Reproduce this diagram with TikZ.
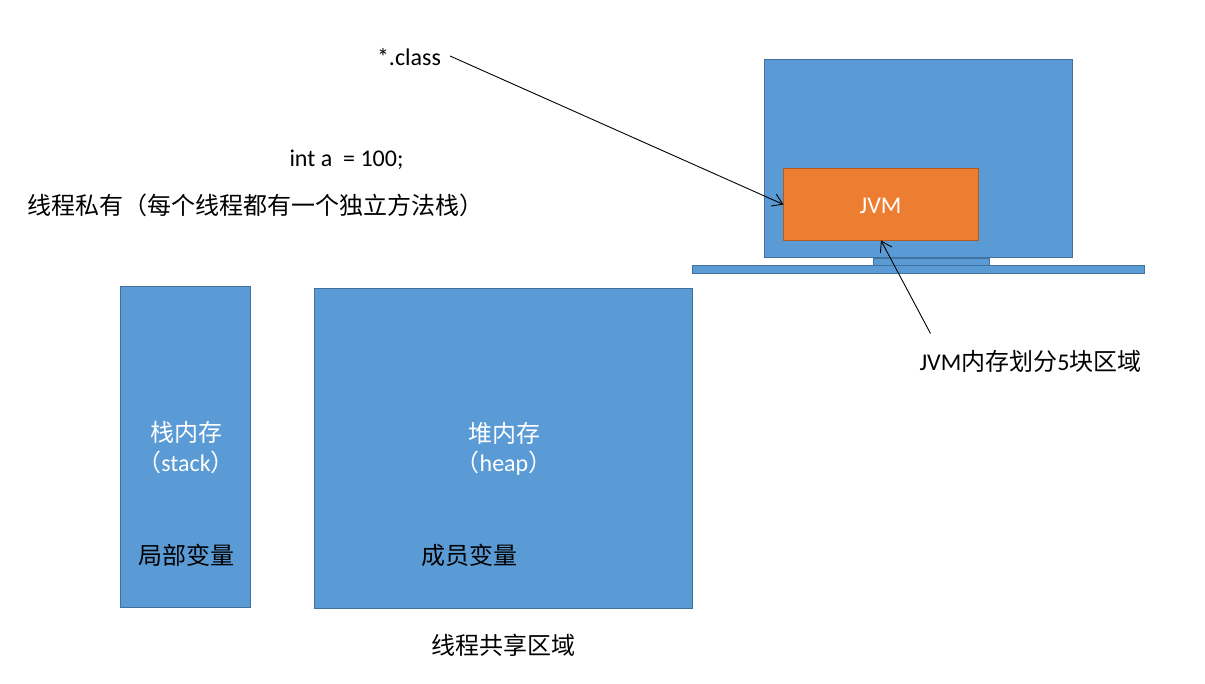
\documentclass[tikz,border=0pt]{standalone}
\usepackage{fontspec}
\setmainfont{Carlito}
\newfontfamily\cjk{Noto Sans CJK SC}
\usetikzlibrary{arrows.meta}
\definecolor{boxblue}{HTML}{5B9BD5}
\definecolor{boxblueline}{HTML}{41719C}
\definecolor{boxorange}{HTML}{ED7D31}
\definecolor{boxorangeline}{HTML}{AE5A21}
\newcommand{\cn}[1]{{\cjk #1}}
\tikzset{
  x=1pt, y=-1pt,
  panel/.style={draw=boxblueline, fill=boxblue, line width=1pt, minimum width=#1, inner sep=0pt, outer sep=0pt},
  accent/.style={draw=boxorangeline, fill=boxorange, line width=1pt, inner sep=0pt, outer sep=0pt},
  label/.style={inner sep=0pt, outer sep=0pt, text=black, font=\fontsize{24pt}{28pt}\selectfont},
  onbox/.style={inner sep=0pt, outer sep=0pt, text=white, font=\fontsize{24pt}{28pt}\selectfont},
  pointer/.style={draw=black, line width=0.9pt, -{Straight Barb[length=10pt,width=13pt,line width=0.9pt]}}
}
\begin{document}
\begin{tikzpicture}
\useasboundingbox (0,0) rectangle (1205,684);

% Computer: screen, neck and base
\node[panel=116pt, minimum height=8pt] (neck) at (931,262.5) {};
\node[panel=452pt, minimum height=8pt] (base) at (918,269.5) {};
\node[panel=308pt, minimum height=198pt] (screen) at (918.5,158.5) {};
\node[accent, minimum width=195pt, minimum height=72pt] (jvm) at (881,204.5) {};
\node[onbox] (jvmtext) at (880.5,206) {JVM};

% Memory areas
\node[panel=130pt, minimum height=321pt] (stack) at (185.5,447) {};
\node[panel=378pt, minimum height=320pt] (heap) at (503.5,448.5) {};

\node[onbox] (stackname) at (186,432) {\cn{栈内存}};
\node[onbox] (stacktext) at (186,462) {\cn{（}stack\cn{）}};
\node[label] (stackvar) at (186,555) {\cn{局部变量}};

\node[onbox] (heapname) at (504,433) {\cn{堆内存}};
\node[onbox] (heaptext) at (504,463) {\cn{（}heap\cn{）}};
\node[label] (heapvar) at (469,555) {\cn{成员变量}};

% Free-standing labels
\node[label] (classfile) at (409,57.5) {*.class};
\node[label] (code) at (346.5,160) {int a\ \ = 100;};
\node[label, anchor=west] (private) at (27.5,205) {\cn{线程私有（每个线程都有一个独立方法栈）}};
\node[label] (regions) at (1030.5,361) {JVM\cn{内存划分}5\cn{块区域}};
\node[label] (shared) at (503.5,645) {\cn{线程共享区域}};

% Connectors
\coordinate (classend) at (450,56);
\coordinate (regionsend) at (930.5,333.5);
\draw[pointer] (classend) -- (jvm.west);
\draw[pointer] (regionsend) -- (jvm.south);
\end{tikzpicture}
\end{document}
